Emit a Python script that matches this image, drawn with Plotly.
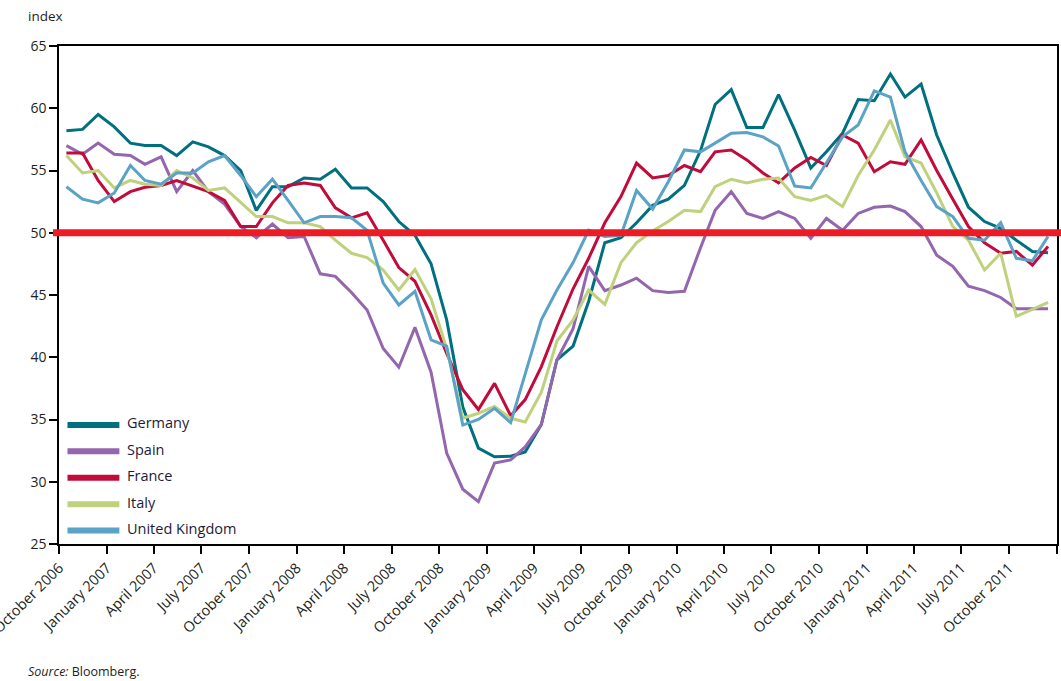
import pandas as pd
import plotly.graph_objects as go

# ---- data (monthly, October 2006 - December 2011) ----
months = pd.date_range("2006-10-01", periods=63, freq="MS") + pd.Timedelta(days=14)

germany = [58.2, 58.3, 59.5, 58.5, 57.2, 57.0, 57.0, 56.2, 57.3, 56.9,
           56.2, 55.0, 51.8, 53.7, 53.7, 54.4, 54.3, 55.1, 53.6, 53.6,
           52.5, 50.9, 49.8, 47.5, 43.0, 36.0, 32.7, 32.0, 32.05, 32.4,
           34.6, 39.8, 40.9, 44.5, 49.2, 49.6, 50.8, 52.2, 52.7, 53.8,
           56.6, 60.3, 61.5, 58.45, 58.45, 61.1, 58.25, 55.2, 56.5, 58.0,
           60.7, 60.6, 62.75, 60.9, 61.95, 57.85, 54.8, 52.05, 50.9, 50.35,
           49.4, 48.5, 48.4]

spain = [57.0, 56.3, 57.2, 56.3, 56.2, 55.5, 56.1, 53.3, 55.0, 53.3,
         52.3, 50.5, 49.6, 50.7, 49.6, 49.7, 46.7, 46.5, 45.2, 43.8,
         40.7, 39.2, 42.4, 38.8, 32.3, 29.4, 28.4, 31.5, 31.75, 32.8,
         34.6, 39.8, 42.3, 47.3, 45.35, 45.8, 46.35, 45.35, 45.2, 45.3,
         48.8, 51.8, 53.3, 51.55, 51.15, 51.7, 51.15, 49.55, 51.15, 50.2,
         51.55, 52.05, 52.15, 51.7, 50.5, 48.2, 47.3, 45.7, 45.35, 44.8,
         43.9, 43.9, 43.9]

france = [56.4, 56.4, 54.2, 52.5, 53.3, 53.65, 53.8, 54.2, 53.75, 53.3,
          52.6, 50.5, 50.5, 52.4, 53.8, 54.0, 53.8, 52.0, 51.2, 51.6,
          49.4, 47.2, 46.1, 43.4, 40.3, 37.4, 35.8, 37.9, 35.3, 36.6,
          39.25, 42.45, 45.5, 47.95, 50.8, 52.9, 55.6, 54.4, 54.6, 55.4,
          54.9, 56.5, 56.65, 55.85, 54.8, 54.0, 55.2, 56.05, 55.4, 57.85,
          57.2, 54.9, 55.7, 55.5, 57.45, 55.0, 52.7, 50.5, 49.2, 48.35,
          48.5, 47.4, 48.9]

italy = [56.2, 54.8, 55.0, 53.6, 54.2, 53.9, 53.8, 55.0, 54.4, 53.4,
         53.6, 52.4, 51.3, 51.3, 50.8, 50.8, 50.5, 49.4, 48.35, 48.0,
         47.0, 45.4, 47.05, 44.7, 40.7, 35.1, 35.5, 36.05, 35.1, 34.8,
         37.2, 41.3, 43.0, 45.4, 44.25, 47.6, 49.2, 50.15, 50.9, 51.8,
         51.7, 53.7, 54.3, 54.0, 54.3, 54.4, 52.9, 52.6, 53.0, 52.1,
         54.6, 56.65, 59.05, 56.1, 55.6, 53.2, 50.5, 49.4, 47.0, 48.35,
         43.3, 43.85, 44.4]

uk = [53.7, 52.7, 52.4, 53.2, 55.4, 54.2, 53.9, 54.8, 54.8, 55.7,
      56.2, 54.6, 52.9, 54.3, 52.6, 50.8, 51.3, 51.3, 51.2, 50.2,
      45.95, 44.2, 45.3, 41.4, 40.9, 34.55, 35.0, 35.9, 34.75, 38.7,
      43.0, 45.4, 47.6, 50.2, 49.7, 49.8, 53.4, 51.9, 54.1, 56.65,
      56.5, 57.2, 58.0, 58.05, 57.7, 56.97, 53.75, 53.6, 55.6, 57.7,
      58.65, 61.4, 60.9, 56.5, 54.2, 52.1, 51.3, 49.55, 49.4, 50.8,
      47.95, 47.75, 49.7]

names = ["Germany", "Spain", "France", "Italy", "United Kingdom"]
colors = ["#00707f", "#9366ad", "#c10b3a", "#bfd17d", "#5aa2c6"]
series = [germany, spain, france, italy, uk]

tick_dates = pd.date_range("2006-10-01", "2012-01-01", freq="3MS")
tick_text = [d.strftime("%B %Y") for d in tick_dates[:-1]] + [""]

threshold = 50
y_ticks = [25, 30, 35, 40, 45, 50, 55, 60, 65]

FONT = "Open Sans"
TXT = "#231f20"

fig = go.Figure()
for name, col, vals in zip(names, colors, series):
    fig.add_trace(go.Scatter(x=months, y=vals, mode="lines", name=name,
                             line=dict(color=col, width=3), showlegend=False))

# 50 threshold line
fig.add_shape(type="line", xref="paper", yref="y", x0=-0.006, x1=1.01,
              y0=threshold, y1=threshold, line=dict(color="#ed1c24", width=7),
              layer="above")

# custom legend
leg_y = [0.243, 0.190, 0.137, 0.084, 0.031]
for name, col, ly in zip(names, colors, leg_y):
    fig.add_shape(type="line", xref="paper", yref="paper", x0=0.0085, x1=0.0605,
                  y0=ly - 0.004, y1=ly - 0.004, line=dict(color=col, width=6))
    fig.add_annotation(x=0.0665, y=ly, xref="paper", yref="paper", text=name,
                       showarrow=False, xanchor="left", yanchor="middle",
                       font=dict(family=FONT, size=14.5, color="#1e1b3a"))

fig.add_annotation(x=-0.033, y=1.06, xref="paper", yref="paper", text="index",
                   showarrow=False, xanchor="left", yanchor="middle",
                   font=dict(family=FONT, size=13.5, color=TXT))
fig.add_annotation(x=-0.033, y=-0.257, xref="paper", yref="paper",
                   text="<i>Source:</i> Bloomberg.", showarrow=False,
                   xanchor="left", yanchor="middle",
                   font=dict(family=FONT, size=12.5, color=TXT))

fig.update_layout(
    width=1061, height=681,
    margin=dict(l=58.7, r=4.3, t=46, b=137, autoexpand=False),
    paper_bgcolor="white", plot_bgcolor="white",
    font=dict(family=FONT, size=13, color=TXT),
    showlegend=False,
)
fig.update_xaxes(
    type="date", range=["2006-09-30 18:00", "2012-01-01 06:00"],
    tickmode="array", tickvals=tick_dates, ticktext=tick_text, tickangle=-45,
    ticks="outside", ticklen=8, tickcolor="black", tickwidth=1.5,
    showline=True, linecolor="black", linewidth=1.5, mirror=True,
    showgrid=False, zeroline=False, automargin=False,
    ticklabeloverflow="allow",
    tickfont=dict(family=FONT, size=14.5, color=TXT),
)
fig.update_yaxes(
    range=[25, 65], tickmode="array", tickvals=y_ticks,
    ticks="outside", ticklen=8, tickcolor="black", tickwidth=1.5,
    showline=True, linecolor="black", linewidth=1.5, mirror=True,
    showgrid=False, zeroline=False, automargin=False,
    tickfont=dict(family=FONT, size=14, color=TXT),
)

fig.write_html("out.html", config={"displayModeBar": False},
               post_script="document.body.style.margin='0px';document.body.style.overflow='hidden';")
